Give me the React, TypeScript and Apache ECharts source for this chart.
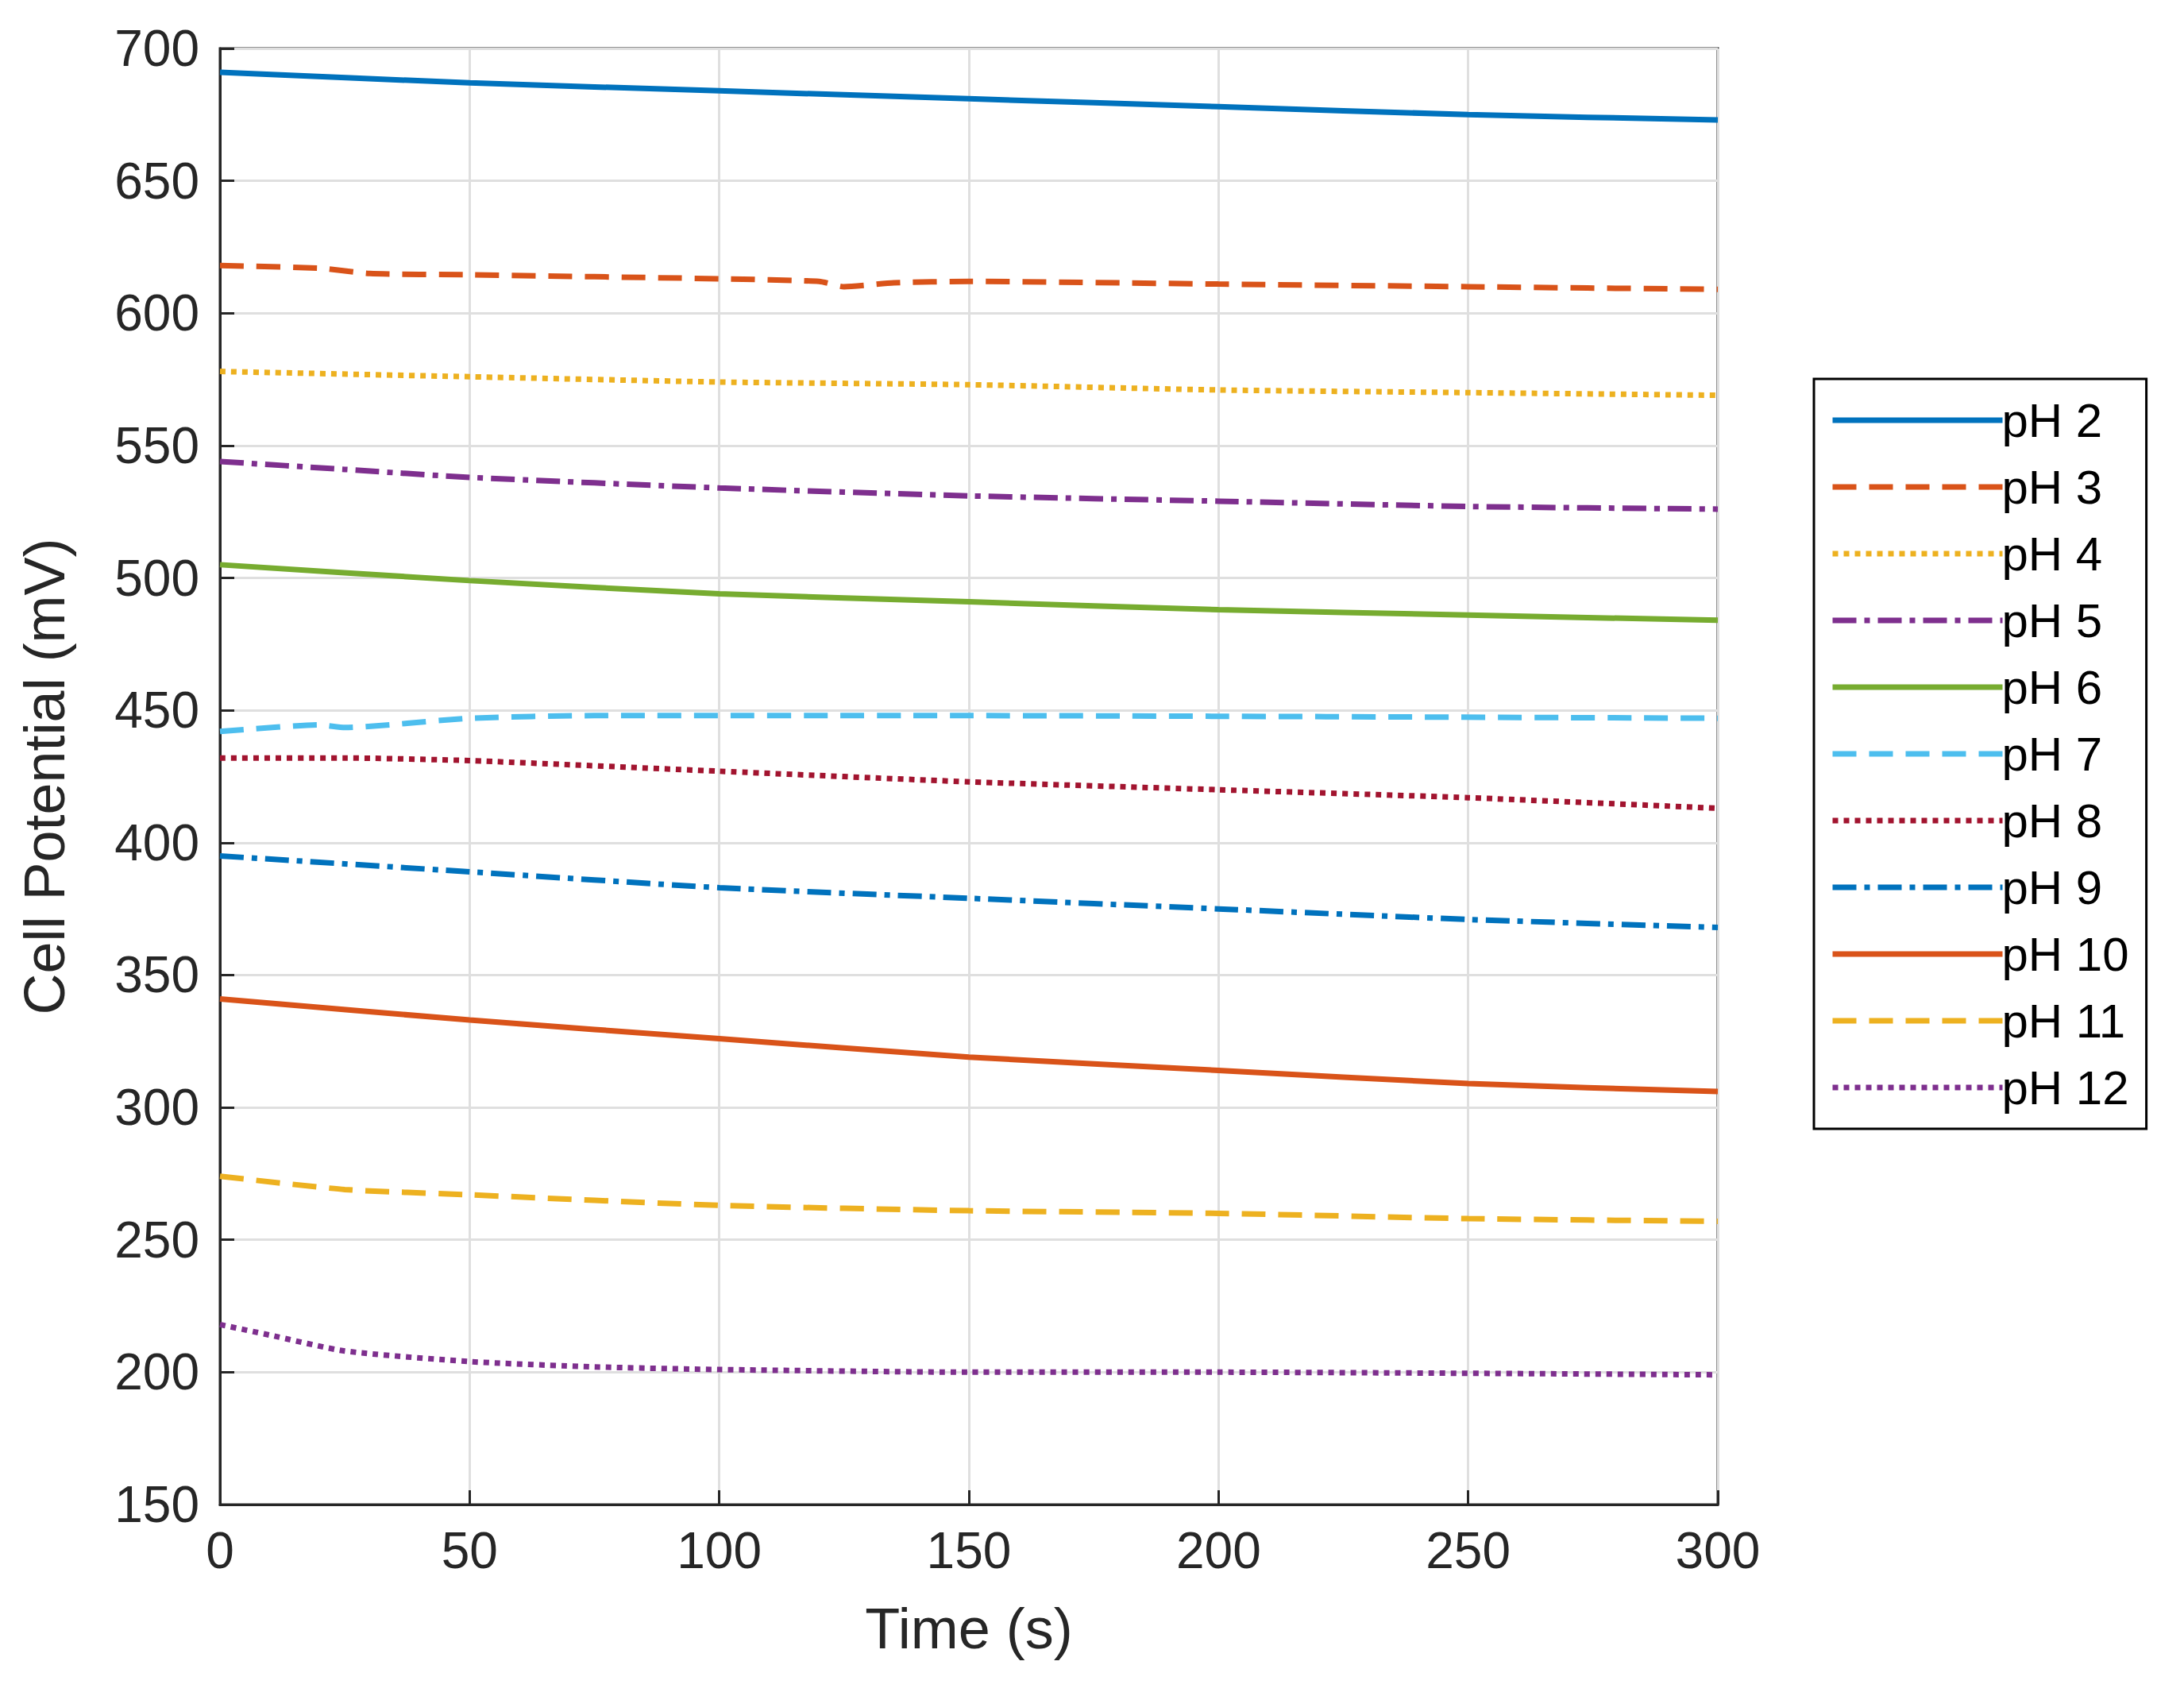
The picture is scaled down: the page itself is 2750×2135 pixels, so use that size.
import { useEffect, useRef } from "react";
import * as echarts from "echarts";

const names = ["pH 2", "pH 3", "pH 4", "pH 5", "pH 6", "pH 7", "pH 8", "pH 9", "pH 10", "pH 11", "pH 12"];
const colors = ["#0072BD", "#D95319", "#EDB120", "#7E2F8E", "#77AC30", "#4DBEEE", "#A2142F", "#0072BD", "#D95319", "#EDB120", "#7E2F8E"];
const styles = ["solid", "dashed", "dotted", "dashdot", "solid", "dashed", "dotted", "dashdot", "solid", "dashed", "dotted"];

const ph2 = [[0, 691], [50, 687], [100, 684], [150, 681], [200, 678], [250, 675], [300, 673]];
const ph3 = [[0, 618], [20, 617], [30, 615], [50, 614.5], [100, 613], [120, 612], [125, 610], [135, 611.5], [150, 612], [200, 611], [250, 610], [300, 609]];
const ph4 = [[0, 578], [50, 576], [100, 574], [150, 573], [200, 571], [250, 570], [300, 569]];
const ph5 = [[0, 544], [25, 541], [50, 538], [100, 534], [150, 531], [200, 529], [250, 527], [300, 526]];
const ph6 = [[0, 505], [50, 499], [100, 494], [150, 491], [200, 488], [250, 486], [300, 484]];
const ph7 = [[0, 442], [20, 444.5], [25, 443.5], [50, 447], [75, 448], [150, 448], [300, 447]];
const ph8 = [[0, 432], [25, 432], [50, 431], [100, 427], [150, 423], [200, 420], [250, 417], [300, 413]];
const ph9 = [[0, 395], [50, 389], [100, 383], [150, 379], [200, 375], [250, 371], [300, 368]];
const ph10 = [[0, 341], [50, 333], [100, 326], [150, 319], [200, 314], [250, 309], [300, 306]];
const ph11 = [[0, 274], [25, 269], [50, 267], [100, 263], [150, 261], [200, 260], [250, 258], [300, 257]];
const ph12 = [[0, 218], [10, 214], [25, 208], [50, 204], [75, 202], [100, 201], [150, 200], [200, 200], [300, 199]];
const allData = [ph2, ph3, ph4, ph5, ph6, ph7, ph8, ph9, ph10, ph11, ph12];

const font = "Liberation Sans, Helvetica, Arial, sans-serif";
const textColor = "#262626";

function dash(style: string): any {
  if (style === "dashed") return [30, 16];
  if (style === "dotted") return [7, 7];
  if (style === "dashdot") return [30, 10, 7, 10];
  return "solid";
}

export default function App() {
  const chartRef = useRef<HTMLDivElement>(null);

  useEffect(() => {
    if (!chartRef.current) return;
    const chart = echarts.init(chartRef.current, null, { renderer: "svg" });
    const axisCommon = {
      axisLine: { show: true, lineStyle: { color: textColor, width: 3 } },
      axisTick: { show: true, inside: true, length: 18, lineStyle: { color: textColor, width: 3 } },
      axisLabel: { color: textColor, fontSize: 64, fontFamily: font, margin: 26 },
      splitLine: { show: true, lineStyle: { color: "#DFDFDF", width: 3 } },
      nameTextStyle: { color: textColor, fontSize: 72, fontFamily: font },
      nameLocation: "middle" as const,
    };
    chart.setOption({
      animation: false,
      backgroundColor: "#fff",
      grid: { left: 277, top: 61, width: 1886, height: 1833, show: true, borderColor: textColor, borderWidth: 3, backgroundColor: "transparent" },
      xAxis: { ...axisCommon, type: "value", min: 0, max: 300, interval: 50, name: "Time (s)", nameGap: 120 },
      yAxis: { ...axisCommon, type: "value", min: 150, max: 700, interval: 50, name: "Cell Potential (mV)", nameGap: 185 },
      legend: {
        orient: "vertical",
        left: 2284,
        top: 477,
        padding: [22, 22, 22, 20],
        borderColor: "#000",
        borderWidth: 3,
        backgroundColor: "#fff",
        itemWidth: 214,
        itemHeight: 20,
        itemGap: 24,
        itemStyle: { opacity: 0 },
        lineStyle: { width: 7 },
        textStyle: { color: "#000", fontSize: 60, fontFamily: font, padding: [0, 0, 0, -6] },
        data: names,
      },
      series: allData.map((d, i) => ({
        name: names[i],
        type: "line",
        data: d,
        smooth: 0.2,
        showSymbol: false,
        symbol: "none",
        color: colors[i],
        lineStyle: { color: colors[i], width: 7, type: dash(styles[i]) },
      })),
    });
    return () => chart.dispose();
  }, []);

  return <div ref={chartRef} style={{ position: "absolute", left: 0, top: 0, width: 2750, height: 2135 }} />;
}
